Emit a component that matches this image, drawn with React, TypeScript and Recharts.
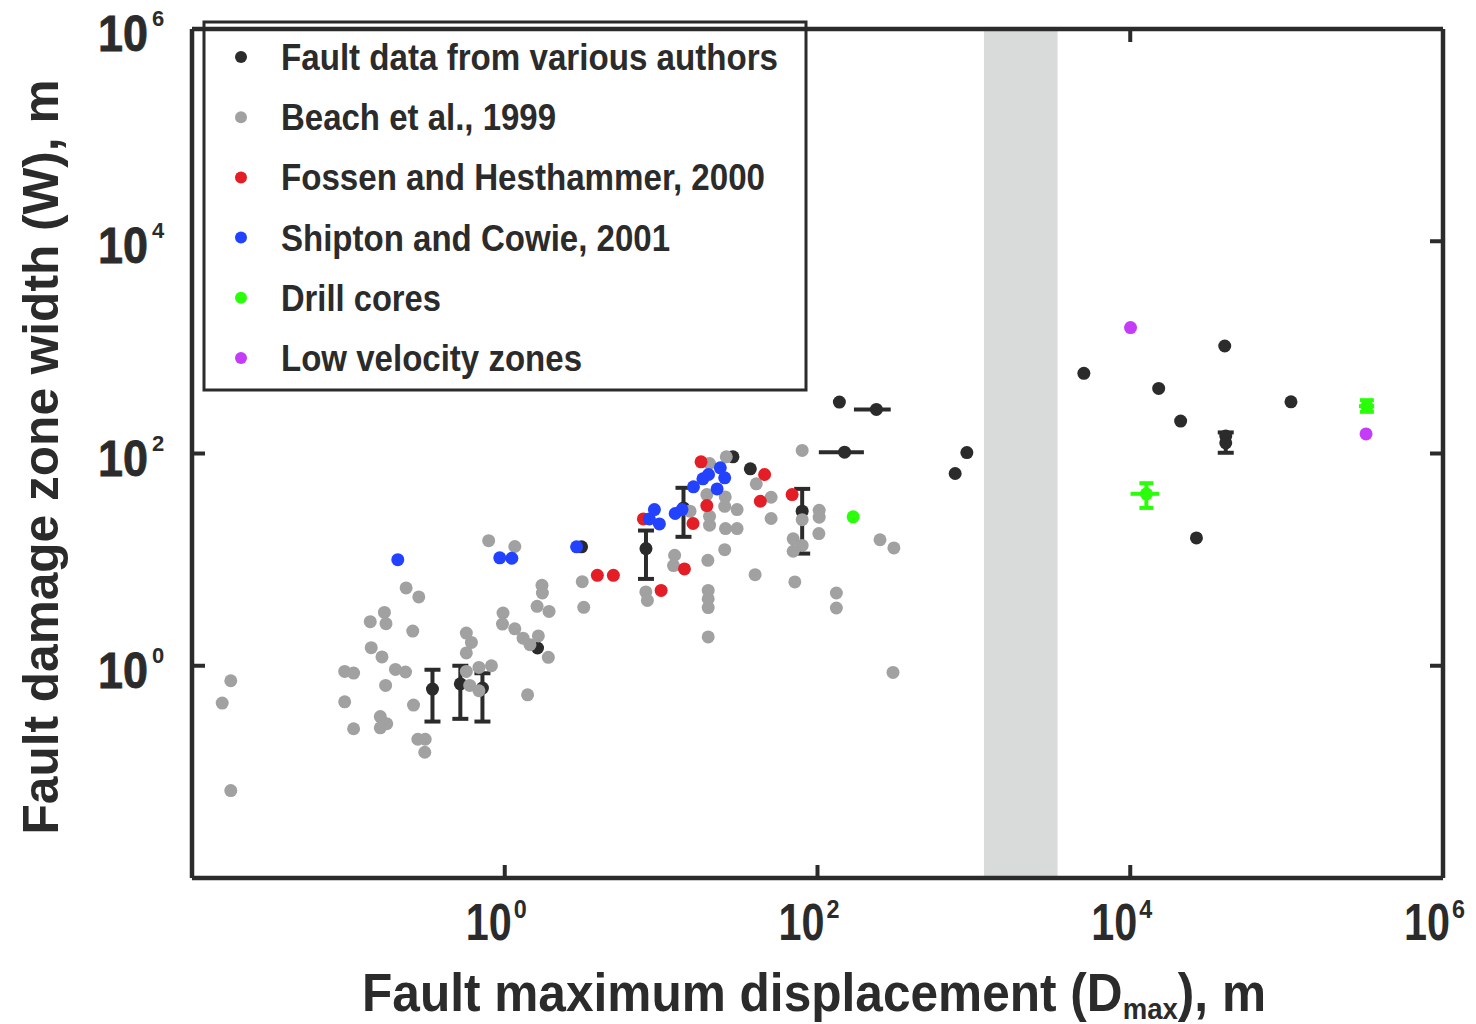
import { ErrorBar, ReferenceArea, Scatter, ScatterChart, XAxis, YAxis } from 'recharts'

// Fault data from various authors — plain points
const authorsD = [1.62, 3.1, 28.8, 37.2, 138, 759, 902, 5050, 15200, 21000, 26500, 40200, 40800, 106600]
const authorsW = [1.47, 13.2, 93, 71.7, 305, 64.8, 102, 569, 410, 202, 16.0, 1030, 146, 307]
// ... with vertical error bars (low / high W)
const authorsErrD = [0.345, 0.52, 0.72, 8.0, 13.9, 79.8, 40800]
const authorsErrW = [0.603, 0.676, 0.616, 12.7, 30.7, 28.6, 126]
const authorsErrLo = [0.298, 0.316, 0.298, 6.58, 16.4, 11.4, 101.6]
const authorsErrHi = [0.917, 1.0, 0.85, 18.8, 47.5, 46.4, 158]
// ... with horizontal error bars (low / high D)
const authorsRangeD = [149, 238]
const authorsRangeW = [103, 260]
const authorsRangeLo = [102, 171]
const authorsRangeHi = [198, 294]

// Beach et al., 1999
const beachD = [
  0.0177, 0.0156, 0.0177, 0.234, 0.282, 0.17, 0.138, 0.174, 0.258, 0.14, 0.164, 0.2, 0.232, 0.0947, 0.108,
  0.173, 0.0947, 0.261, 0.16, 0.176, 0.16, 0.108, 0.278, 0.31, 0.308, 0.568, 0.612, 0.568, 0.568, 0.684,
  0.822, 0.597, 0.684, 0.789, 1.16, 0.975, 0.967, 1.16, 1.31, 1.64, 1.45, 1.9, 1.73, 1.74, 1.61, 1.92, 1.4,
  3.13, 3.2, 7.98, 8.17, 12.2, 12.0, 15.3, 20.4, 26.1, 19.6, 25.7, 25.5, 30.6, 20.4, 20.4, 25.8, 30.6, 25.5,
  19.9, 20.0, 20.0, 20.0, 20.0, 40.6, 50.5, 50.5, 39.9, 79.8, 79.8, 102.5, 102.5, 102, 69.9, 79.8, 69.9,
  71.6, 132, 132, 251, 308, 304,
]
const beachW = [
  0.722, 0.445, 0.0667, 5.41, 4.45, 3.18, 2.6, 2.49, 2.12, 1.48, 1.21, 0.923, 0.873, 0.884, 0.853, 0.652,
  0.457, 0.426, 0.332, 0.284, 0.26, 0.255, 0.203, 0.203, 0.153, 2.03, 1.66, 1.32, 0.884, 0.964, 1.0, 0.652,
  0.581, 15.1, 13.3, 3.14, 2.47, 2.23, 1.82, 1.91, 1.58, 1.2, 5.72, 4.85, 3.63, 3.25, 0.532, 6.2, 3.55, 4.96,
  4.13, 11.0, 8.78, 28.6, 80.5, 93, 41.0, 39.0, 31.8, 29.6, 25.6, 21.1, 19.6, 19.6, 12.4, 9.85, 5.13, 4.26,
  3.53, 1.87, 51.8, 38.7, 24.4, 7.22, 107, 23.8, 29.2, 25.1, 17.6, 15.7, 13.6, 12.0, 6.16, 4.85, 3.5, 15.4,
  12.9, 0.865,
]

// Fossen and Hesthammer, 2000
const fossenD = [3.91, 4.95, 7.7, 10.0, 14.1, 16.0, 19.6, 18.0, 45.9, 43.1, 68.8]
const fossenW = [7.11, 7.11, 24.2, 5.13, 8.17, 21.9, 32.3, 83.5, 63.4, 35.5, 41.0]

// Shipton and Cowie, 2001
const shiptonD = [0.207, 0.929, 1.11, 2.88, 8.41, 9.06, 9.75, 12.3, 13.6, 16.1, 18.5, 20.1, 22.8, 23.9, 25.5]
const shiptonW = [10.0, 10.4, 10.3, 13.2, 24.2, 29.6, 21.7, 27.2, 29.6, 48.5, 57.7, 63.4, 46.4, 73.3, 59.0]

// Drill cores
const drillD = [169]
const drillW = [25.3]
const drillErrD = [12680, 326000]
const drillErrW = [41.7, 279]
const drillErrDLo = [10040, 290000]
const drillErrDHi = [15300, 363000]
const drillErrWLo = [30.7, 247]
const drillErrWHi = [52.5, 318]

// Low velocity zones
const lvzD = [10040, 322000]
const lvzW = [1535, 153]

// grey band (D range)
const bandD = [1160, 3430]

const xTicks = [1, 100, 1e4, 1e6]
const yTicks = [1, 100, 1e4, 1e6]
const domain = [0.01, 1e6]

const legendNames = [
  'Fault data from various authors',
  'Beach et al., 1999',
  'Fossen and Hesthammer, 2000',
  'Shipton and Cowie, 2001',
  'Drill cores',
  'Low velocity zones',
]
const legendWidths = [497, 275, 484, 389, 160, 301]

const INK = '#2b2b2b'
const colors = ['#2b2b2b', '#a0a1a0', '#e31e26', '#2342ff', '#2aff0a', '#c43cf8']
const FONT = '"Liberation Sans", Arial, sans-serif'

const W = 1468
const H = 1016

const pts = (xs: number[], ys: number[]) => xs.map((x, i) => ({ x, y: ys[i] }))

const authors = pts(authorsD, authorsW)
const authorsErr = authorsErrD.map((x, i) => ({
  x,
  y: authorsErrW[i],
  yErr: [authorsErrW[i] - authorsErrLo[i], authorsErrHi[i] - authorsErrW[i]],
}))
const authorsRange = authorsRangeD.map((x, i) => ({
  x,
  y: authorsRangeW[i],
  xErr: [x - authorsRangeLo[i], authorsRangeHi[i] - x],
}))
const beach = pts(beachD, beachW)
const fossen = pts(fossenD, fossenW)
const shipton = pts(shiptonD, shiptonW)
const drill = pts(drillD, drillW)
const drillErr = drillErrD.map((x, i) => ({
  x,
  y: drillErrW[i],
  xErr: [x - drillErrDLo[i], drillErrDHi[i] - x],
  yErr: [drillErrW[i] - drillErrWLo[i], drillErrWHi[i] - drillErrW[i]],
}))
const lvz = pts(lvzD, lvzW)

const dot = (fill: string) => (p: any) => <circle cx={p.cx} cy={p.cy} r={6.5} fill={fill} />
const noDot = () => <g />

const exp = (v: number) => String(Math.round(Math.log10(v)))

function BottomTick({ x, y, payload }: any) {
  const v = payload.value
  return (
    <g>
      {v < 1e6 && <line x1={x} y1={y} x2={x} y2={y - 13} stroke={INK} strokeWidth={4} />}
      <text x={x + 7} y={y + 62} textAnchor="end" fontFamily={FONT} fontWeight="bold" fontSize={52}
        fill={INK} textLength={46} lengthAdjust="spacingAndGlyphs">10</text>
      <text x={x + 9} y={y + 40} fontFamily={FONT} fontWeight="bold" fontSize={26} fill={INK}
        textLength={13} lengthAdjust="spacingAndGlyphs">{exp(v)}</text>
    </g>
  )
}

function LeftTick({ x, y, payload }: any) {
  const v = payload.value
  return (
    <g>
      {v < 1e4 && <line x1={x} y1={y} x2={x + 13} y2={y} stroke={INK} strokeWidth={4} />}
      <text x={x - 44} y={y + 22} textAnchor="end" fontFamily={FONT} fontWeight="bold" fontSize={50}
        fill={INK} textLength={50} lengthAdjust="spacingAndGlyphs" stroke={INK} strokeWidth={0.8}>10</text>
      <text x={x - 40} y={y - 3} fontFamily={FONT} fontWeight="bold" fontSize={22} fill={INK}>{exp(v)}</text>
    </g>
  )
}

function RightTick({ x, y }: any) {
  return <line x1={x} y1={y} x2={x - 13} y2={y} stroke={INK} strokeWidth={4} />
}

function TopTick({ x, y }: any) {
  return <line x1={x} y1={y} x2={x} y2={y + 13} stroke={INK} strokeWidth={4} />
}

function Overlay() {
  return (
    <svg width={W} height={H} style={{ position: 'absolute', left: 0, top: 0, pointerEvents: 'none' }}>
      <rect x={196} y={14} width={602} height={368} fill="none" stroke={INK} strokeWidth={3} />
      {legendNames.map((name, i) => {
        const cy = 49 + i * 60.2
        return (
          <g key={name}>
            <circle cx={233} cy={cy} r={6} fill={colors[i]} />
            <text x={273} y={cy + 13} fontFamily={FONT} fontWeight="bold" fontSize={36} fill={INK}
              textLength={legendWidths[i]} lengthAdjust="spacingAndGlyphs">{name}</text>
          </g>
        )
      })}
      <text x={50} y={449} transform="rotate(-90 50 449)" textAnchor="middle" fontFamily={FONT}
        fontWeight="bold" fontSize={50} fill={INK} textLength={755} lengthAdjust="spacingAndGlyphs">
        Fault damage zone width (W), m
      </text>
      <text x={806} y={1003} textAnchor="middle" fontFamily={FONT} fontWeight="bold" fontSize={54}
        fill={INK} textLength={904} lengthAdjust="spacingAndGlyphs">
        Fault maximum displacement (D<tspan fontSize={30} dy={8}>max</tspan><tspan dy={-8}>), m</tspan>
      </text>
    </svg>
  )
}

export default function App() {
  const axisLine = { stroke: INK, strokeWidth: 4.5 }
  return (
    <div style={{ position: 'relative', width: W, height: H, background: '#fff' }}>
      <ScatterChart width={W} height={H} margin={{ top: 20, right: 32, bottom: 56, left: 64 }}>
        <XAxis type="number" dataKey="x" scale="log" domain={domain} allowDataOverflow ticks={xTicks}
          interval={0} height={90} axisLine={axisLine} tickLine={false} tickSize={0} tickMargin={0}
          tick={<BottomTick />} />
        <XAxis xAxisId="top" orientation="top" type="number" dataKey="x" scale="log" domain={domain}
          allowDataOverflow ticks={[1e4]} interval={0} height={1} axisLine={axisLine} tickLine={false}
          tickSize={0} tickMargin={0} tick={<TopTick />} />
        <YAxis type="number" dataKey="y" scale="log" domain={domain} allowDataOverflow ticks={yTicks}
          interval={0} width={120} axisLine={axisLine} tickLine={false} tickSize={0} tickMargin={0}
          tick={<LeftTick />} />
        <YAxis yAxisId="right" orientation="right" type="number" dataKey="y" scale="log" domain={domain}
          allowDataOverflow ticks={[1, 100, 1e4]} interval={0} width={1} axisLine={axisLine} tickLine={false}
          tickSize={0} tickMargin={0} tick={<RightTick />} />

        <ReferenceArea x1={bandD[0]} x2={bandD[1]} fill="#d9dbdb" fillOpacity={1} stroke="none" />

        <Scatter data={authors} isAnimationActive={false} shape={dot(colors[0])} />
        <Scatter data={authorsErr} isAnimationActive={false} shape={dot(colors[0])}>
          <ErrorBar dataKey="yErr" direction="y" width={8} stroke={INK} strokeWidth={4} />
        </Scatter>
        <Scatter data={authorsRange} isAnimationActive={false} shape={dot(colors[0])}>
          <ErrorBar dataKey="xErr" direction="x" width={0} stroke={INK} strokeWidth={4} />
        </Scatter>
        <Scatter data={beach} isAnimationActive={false} shape={dot(colors[1])} />
        <Scatter data={fossen} isAnimationActive={false} shape={dot(colors[2])} />
        <Scatter data={shipton} isAnimationActive={false} shape={dot(colors[3])} />
        <Scatter data={drill} isAnimationActive={false} shape={dot(colors[4])} />
        <Scatter data={drillErr} isAnimationActive={false} shape={dot(colors[4])}>
          <ErrorBar dataKey="yErr" direction="y" width={7} stroke={colors[4]} strokeWidth={4} />
          <ErrorBar dataKey="xErr" direction="x" width={0} stroke={colors[4]} strokeWidth={4} />
        </Scatter>
        <Scatter data={lvz} isAnimationActive={false} shape={dot(colors[5])} />
        {/* binds the top and right frame axes so they are drawn */}
        <Scatter data={lvz} xAxisId="top" yAxisId="right" isAnimationActive={false} shape={noDot}
          legendType="none" />
      </ScatterChart>
      <Overlay />
    </div>
  )
}
